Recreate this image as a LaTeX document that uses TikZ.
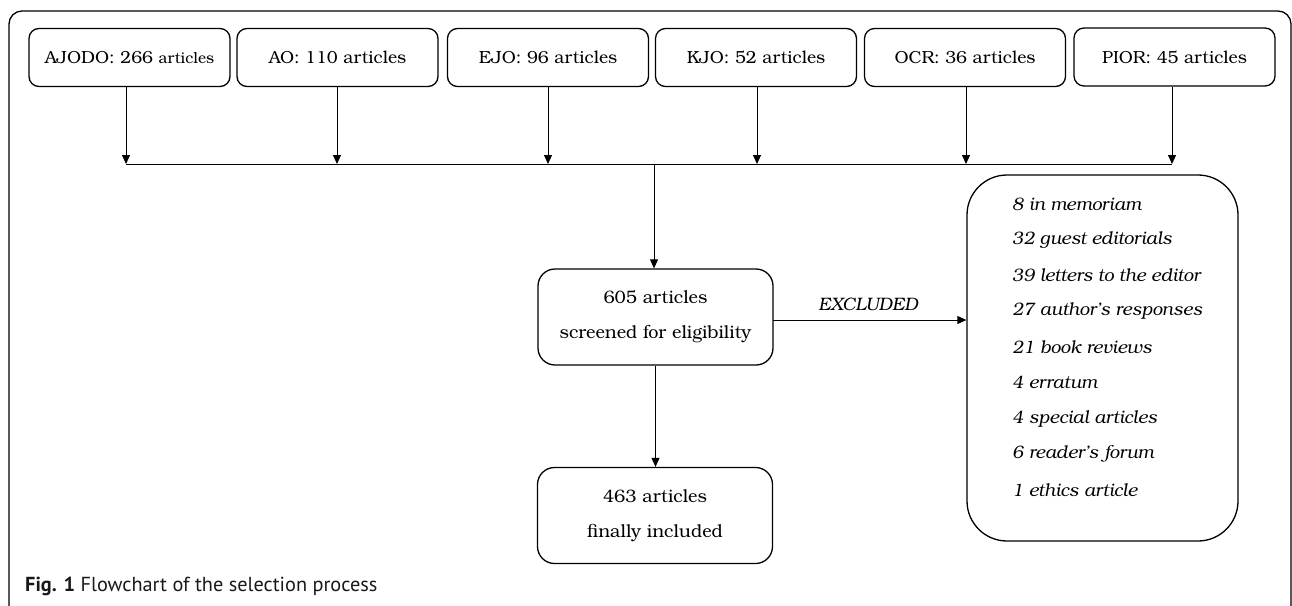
\documentclass[tikz,border=0pt]{standalone}
\usepackage{fontspec}
\setmainfont{TeX Gyre Bonum}
\newfontfamily\capfont{PT Sans}
\usetikzlibrary{arrows.meta}
\begin{document}
\begin{tikzpicture}[x=1pt,y=-1pt,
  src/.style={draw, line width=1.3pt, rounded corners=10pt, minimum width=201pt, minimum height=58pt, inner sep=0pt, font=\fontsize{17.5}{20}\selectfont},
  midbox/.style={draw, line width=1.3pt, rounded corners=17pt, minimum width=235pt, minimum height=96pt, inner sep=0pt, align=center, font=\fontsize{18}{35}\selectfont},
  listbox/.style={draw, line width=1.3pt, rounded corners=40pt, minimum width=271pt, minimum height=366pt, inner sep=0pt},
  item/.style={anchor=west, inner sep=0pt, font=\fontsize{18}{20}\selectfont\itshape},
  conn/.style={line width=0.9pt, -{Triangle[width=8pt,length=9pt]}},
  plain/.style={line width=0.9pt}
]
\clip (0,0) rectangle (1292,605);
\draw[line width=1.3pt, rounded corners=13pt] (9,11) rectangle (1291,640);

% source boxes
\node[src] (ajodo) at (129.5,57.5) {AJODO: 266 {\fontsize{15.5}{18}\selectfont articles}};
\node[src] (ao)    at (337.5,57.5) {AO: 110 articles};
\node[src] (ejo)   at (548,57.5)   {EJO: 96 articles};
\node[src] (kjo)   at (756,57.5)   {KJO: 52 articles};
\node[src] (ocr)   at (965,57.5)   {OCR: 36 articles};
\node[src] (pior)  at (1174.5,57) {PIOR: 45 articles};

% bus coordinates
\coordinate (b1) at (126,164);
\coordinate (b2) at (337,164);
\coordinate (b3) at (548,164);
\coordinate (b4) at (757,164);
\coordinate (b5) at (966,164);
\coordinate (b6) at (1172,164);
\coordinate (bc) at (654,164);

\draw[conn] (ajodo.south -| b1) -- (b1);
\draw[conn] (ao.south -| b2) -- (b2);
\draw[conn] (ejo.south -| b3) -- (b3);
\draw[conn] (kjo.south -| b4) -- (b4);
\draw[conn] (ocr.south -| b5) -- (b5);
\draw[conn] (pior.south -| b6) -- (b6);
\draw[plain] (b1) -- (b6);

% middle boxes
\node[midbox] (screen) at (655.5,317) {605 articles\\screened for eligibility};
\node[midbox] (final)  at (655,515.5) {463 articles\\finally included};

\draw[conn] (bc) -- (bc |- screen.north);
\draw[conn] (screen.south) -- (screen.south |- final.north);

% excluded box
\node[listbox] (excl) at (1102.5,358) {};
\foreach \t [count=\i from 0] in {8 in memoriam, 32 guest editorials, 39 letters to the editor, 27 author’s responses, 21 book reviews, 4 erratum, 4 special articles, 6 reader’s forum, 1 ethics article}
  \node[item] (it\i) at (1012,{204+35.75*\i}) {\t};

\coordinate (ex) at (773,320);
\draw[conn] (ex) -- (ex -| excl.west);
\node[font=\fontsize{18}{20}\selectfont\itshape, inner sep=0pt] (exlabel) at (868,304) {EXCLUDED};

% caption
\node[anchor=west, inner sep=0pt, font=\capfont\fontsize{20.3}{23}\selectfont, text=black!90] (caption) at (25,586) {\textbf{Fig. 1} Flowchart of the selection process};
\end{tikzpicture}
\end{document}
